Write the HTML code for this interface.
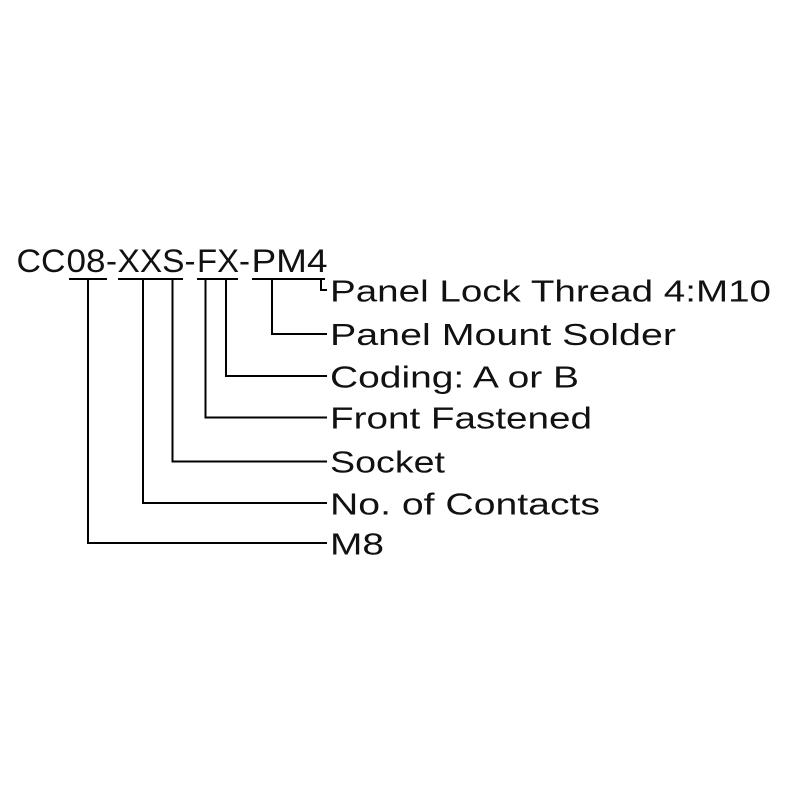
<!DOCTYPE html>
<html>
<head>
<meta charset="utf-8">
<style>
  html, body { margin: 0; padding: 0; background: #ffffff; }
  body { width: 800px; height: 800px; overflow: hidden; }
  svg { display: block; }
  text { font-family: "Liberation Sans", "DejaVu Sans", sans-serif; fill: #111111; }
</style>
</head>
<body>
<svg width="800" height="800" viewBox="0 0 800 800" xmlns="http://www.w3.org/2000/svg">
  <rect width="800" height="800" fill="#ffffff"/>

  <!-- Part number -->
  <g font-size="32">
    <text x="16.5" y="272" textLength="49" lengthAdjust="spacingAndGlyphs">CC</text>
    <text x="66.5" y="272" textLength="39" lengthAdjust="spacingAndGlyphs">08</text>
    <text x="106" y="272" textLength="11" lengthAdjust="spacingAndGlyphs">-</text>
    <text x="117.5" y="272" textLength="67" lengthAdjust="spacingAndGlyphs">XXS</text>
    <text x="184.5" y="272" textLength="11" lengthAdjust="spacingAndGlyphs">-</text>
    <text x="197" y="272" textLength="42" lengthAdjust="spacingAndGlyphs">FX</text>
    <text x="239" y="272" textLength="11" lengthAdjust="spacingAndGlyphs">-</text>
    <text x="251.5" y="272" textLength="76" lengthAdjust="spacingAndGlyphs">PM4</text>
  </g>

  <!-- Lines -->
  <g stroke="#000" stroke-width="2" fill="none" stroke-linejoin="miter" stroke-linecap="butt">
    <line x1="69" y1="279" x2="107" y2="279"/>
    <line x1="118" y1="279" x2="183" y2="279"/>
    <line x1="197" y1="279" x2="238" y2="279"/>
    <line x1="252" y1="279" x2="325" y2="279"/>

    <polyline points="321,279 321,290 327,290"/>
    <polyline points="272,279 272,334 327,334"/>
    <polyline points="226,279 226,376 327,376"/>
    <polyline points="205.5,279 205.5,417.5 327,417.5"/>
    <polyline points="172.5,279 172.5,461.5 327,461.5"/>
    <polyline points="143,279 143,503 327,503"/>
    <polyline points="88,279 88,543 327,543"/>
  </g>

  <!-- Labels -->
  <g font-size="31">
    <text x="330" y="301.5" textLength="441" lengthAdjust="spacingAndGlyphs">Panel Lock Thread 4:M10</text>
    <text x="330" y="345" textLength="346" lengthAdjust="spacingAndGlyphs">Panel Mount Solder</text>
    <text x="330" y="387.3" textLength="249" lengthAdjust="spacingAndGlyphs">Coding: A or B</text>
    <text x="330" y="428.7" textLength="262" lengthAdjust="spacingAndGlyphs">Front Fastened</text>
    <text x="330" y="472.5" textLength="115" lengthAdjust="spacingAndGlyphs">Socket</text>
    <text x="330" y="514.5" textLength="270" lengthAdjust="spacingAndGlyphs">No. of Contacts</text>
    <text x="330" y="554.3" textLength="54" lengthAdjust="spacingAndGlyphs">M8</text>
  </g>
</svg>
</body>
</html>
